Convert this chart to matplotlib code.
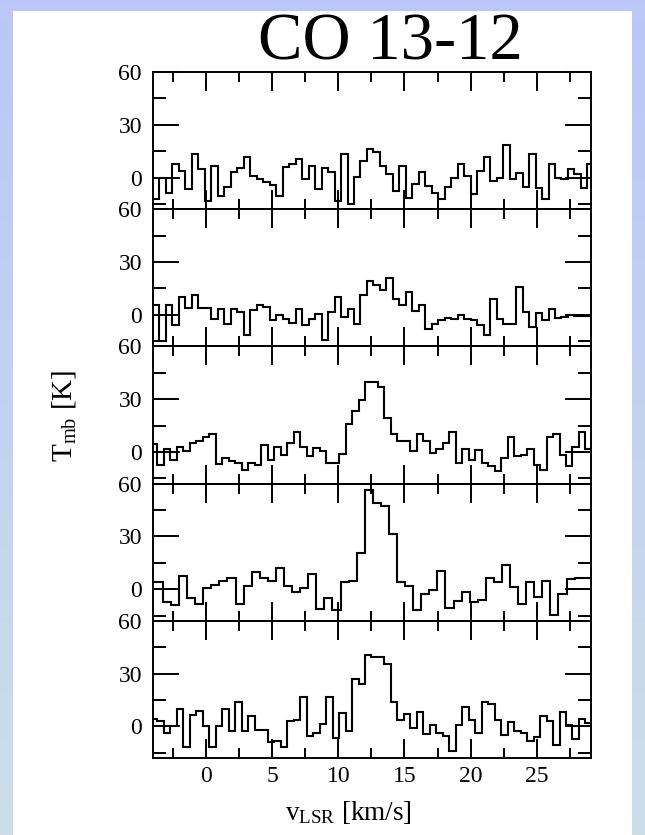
import numpy as np
import matplotlib
matplotlib.use('Agg')
import matplotlib.pyplot as plt
from matplotlib.ticker import MultipleLocator
from matplotlib.patches import Rectangle

plt.rcParams['font.family'] = ['Liberation Serif', 'DejaVu Serif']
plt.rcParams['mathtext.fontset'] = 'custom'
plt.rcParams['mathtext.rm'] = 'Liberation Serif'
plt.rcParams['mathtext.it'] = 'Liberation Serif:italic'

# ---------------- data ----------------
title = 'CO 13-12'
xlabel = r'$\mathrm{v_{LSR}}$ [km/s]'
ylabel = r'$\mathrm{T_{mb}}$ [K]'
xticks = [0, 5, 10, 15, 20, 25]
yticks = [0, 30, 60]

# channel grid of each spectrum: first channel edge [km/s], channel width [km/s]
grid_start = [-4.0, -4.0, -4.15, -4.47, -4.15]
grid_width = [0.49, 0.49, 0.49, 0.61, 0.49]

T1 = [-12.0, 0.0, -8.6, 7.7, 3.9, -6.7, 13.4, 4.8, -13.3, 6.7,
      -10.5, -5.3, 3.3, 5.2, 11.5, 1.0, -0.9, -2.8, -4.2, -10.5,
      5.8, 7.7, 10.5, -0.9, 6.7, -6.7, 5.2, 2.9, -13.3, 13.4,
      -15.2, 0.4, 9.6, 16.3, 14.4, 6.7, 1.9, -7.6, 6.7, -11.4,
      -3.8, 2.9, -4.7, -8.6, -12.4, -5.3, 0.0, 7.7, 1.0, -9.5,
      3.9, 11.5, -1.9, 0.0, 18.7, -0.9, 2.3, -5.3, 13.4, -5.7,
      -12.4, 7.7, 0.0, -0.9, 4.8, 1.9, -5.7, 7.7]

T2 = [5.4, -14.7, 5.4, -6.1, 10.1, 3.8, 11.1, 3.8, 3.8, -2.3,
      3.5, -5.1, 3.5, 1.5, -11.8, 2.5, 5.4, 4.4, -3.2, 0.0,
      -2.3, -4.6, 3.5, -5.7, -2.3, 0.6, -14.3, 1.5, 10.1, -1.3,
      3.1, -5.1, 11.1, 19.3, 16.8, 14.0, 21.0, 9.2, 5.4, 13.0,
      1.9, 5.8, -8.0, -5.1, -3.2, -1.7, -2.6, 0.0, -2.3, -3.2,
      -6.1, -11.8, 9.2, -2.3, -5.1, -5.1, 15.9, 1.5, -7.0, 1.2,
      -3.2, 3.5, -1.9, -1.3, -0.4, -0.9, -0.9, -0.9]

T3 = [4.6, -7.2, 1.9, -4.4, 2.7, 0.4, 4.8, 6.1, 8.4, 10.3,
      -6.7, -3.4, -4.9, -6.3, -10.1, -6.3, -7.2, 3.8, -4.8, 2.7,
      -1.5, 5.2, 11.5, 2.7, -2.5, 2.3, 0.8, -6.3, -6.3, -1.1,
      16.1, 23.3, 29.4, 39.9, 39.9, 36.7, 19.5, 10.3, 6.1, 6.1,
      0.4, 10.3, 6.1, -0.5, 1.4, 5.2, 11.5, -6.3, 1.9, -4.4,
      1.0, -6.3, -8.2, -10.7, -3.4, 8.4, -2.5, -1.5, 1.9, -7.2,
      -10.1, 8.4, 10.3, -1.5, -8.2, 2.7, 11.5, 1.9]

T4 = [3.8, 3.8, -7.2, -8.8, 7.7, -5.3, -8.2, 0.4, 2.3, 4.6,
      6.5, -8.2, 1.9, 9.9, 6.1, 4.8, 12.3, 1.9, -1.9, 0.4,
      8.4, -11.1, -5.3, -11.6, 3.8, 4.8, 20.5, 56.2, 49.1, 47.2,
      31.3, 3.8, 1.9, -12.0, -2.5, -0.5, 10.3, -10.7, -6.8, -1.9,
      -7.2, -6.3, 6.5, 3.8, 13.8, 1.4, -8.2, 3.8, -4.4, 4.6,
      -14.5, -3.0, 5.7, 6.5, 6.1, 6.1]

T5 = [4.4, 2.9, -3.8, 0.4, 10.1, -11.8, 6.7, 9.0, 0.0, -11.8,
      0.0, 10.1, -2.8, 14.0, -2.8, 5.7, -1.9, -1.9, -9.0, -8.6,
      -11.8, 2.9, 3.8, 16.6, -5.7, -3.8, 1.4, 16.6, -6.7, 7.5,
      -2.8, 26.8, 24.3, 40.6, 39.5, 39.5, 35.7, 14.0, 3.8, 7.1,
      -0.9, 8.2, -4.4, 1.0, -3.8, -5.7, -14.3, 1.0, 10.9, 3.8,
      -3.8, 14.0, 12.8, 3.8, -4.8, 2.5, -2.5, -3.8, -8.6, -6.3,
      5.7, 2.9, -10.5, 8.2, 1.0, -7.0, 4.4, 1.9]

spectra = [T1, T2, T3, T4, T5]

# baseline windows drawn at T = 0
base_windows = [(-4.0, -2.0), (27.3, 29.1)]

# ---------------- figure ----------------
W, H = 645, 835
fig = plt.figure(figsize=(W / 100, H / 100), dpi=100)

# slide background (gradient strips + white page)
bg = fig.add_axes([0, 0, 1, 1], zorder=0)
top_c = np.array([0.73, 0.78, 0.97])
bot_c = np.array([0.80, 0.87, 0.91])
t = np.linspace(0, 1, 200)[:, None, None]
grad = top_c * (1 - t) + bot_c * t
grad = np.repeat(grad, 4, axis=1)
bg.imshow(grad, aspect='auto', extent=[0, 1, 0, 1], origin='upper')
bg.add_patch(Rectangle((13 / W, 0), (632 - 13) / W, (H - 11) / H,
                       transform=bg.transAxes, facecolor='white', edgecolor='none'))
bg.set_xlim(0, 1)
bg.set_ylim(0, 1)
bg.axis('off')

left_px, right_px = 153, 591
top_px, bottom_px = 72, 758
ph = (bottom_px - top_px) / 5.0

lw_frame = 1.4
for i, T in enumerate(spectra):
    y0 = 1 - (top_px + (i + 1) * ph) / H
    ax = fig.add_axes([left_px / W, y0, (right_px - left_px) / W, ph / H], zorder=2)
    ax.set_facecolor('none')
    edges = grid_start[i] + grid_width[i] * np.arange(len(T) + 1)
    ax.stairs(T, edges, color='black', linewidth=1.5, baseline=None)
    for a, b in base_windows:
        ax.plot([a, b], [0, 0], color='black', linewidth=1.3)
    ax.set_xlim(-4.0, 29.1)
    ax.set_ylim(-18, 60)
    ax.xaxis.set_major_locator(MultipleLocator(5))
    ax.xaxis.set_minor_locator(MultipleLocator(2.5))
    ax.set_yticks(yticks)
    ax.yaxis.set_minor_locator(MultipleLocator(15))
    ax.tick_params(axis='x', which='major', direction='in', length=13.5, width=1.4,
                   top=True, bottom=True, labelsize=17, pad=6)
    ax.tick_params(axis='x', which='minor', direction='in', length=7, width=1.4,
                   top=True, bottom=True)
    ax.tick_params(axis='y', which='major', direction='in', length=18.5, width=1.4,
                   left=True, right=True, labelsize=17, pad=8)
    ax.tick_params(axis='y', which='minor', direction='in', length=9.3, width=1.4,
                   left=True, right=True)
    for s in ax.spines.values():
        s.set_linewidth(lw_frame)
    if i < 4:
        ax.tick_params(axis='x', labelbottom=False)
    else:
        ax.set_xticks(xticks)

fig.text(0.606, 1 - 60 / H, title, fontsize=48, ha='center', va='baseline')
fig.text(348 / W, 1 - 812 / H, xlabel, fontsize=19.5, ha='center', va='center')
fig.text(64 / W, 1 - 416 / H, ylabel, fontsize=21, ha='center', va='center', rotation=90)

fig.savefig('out.png', dpi=100)
